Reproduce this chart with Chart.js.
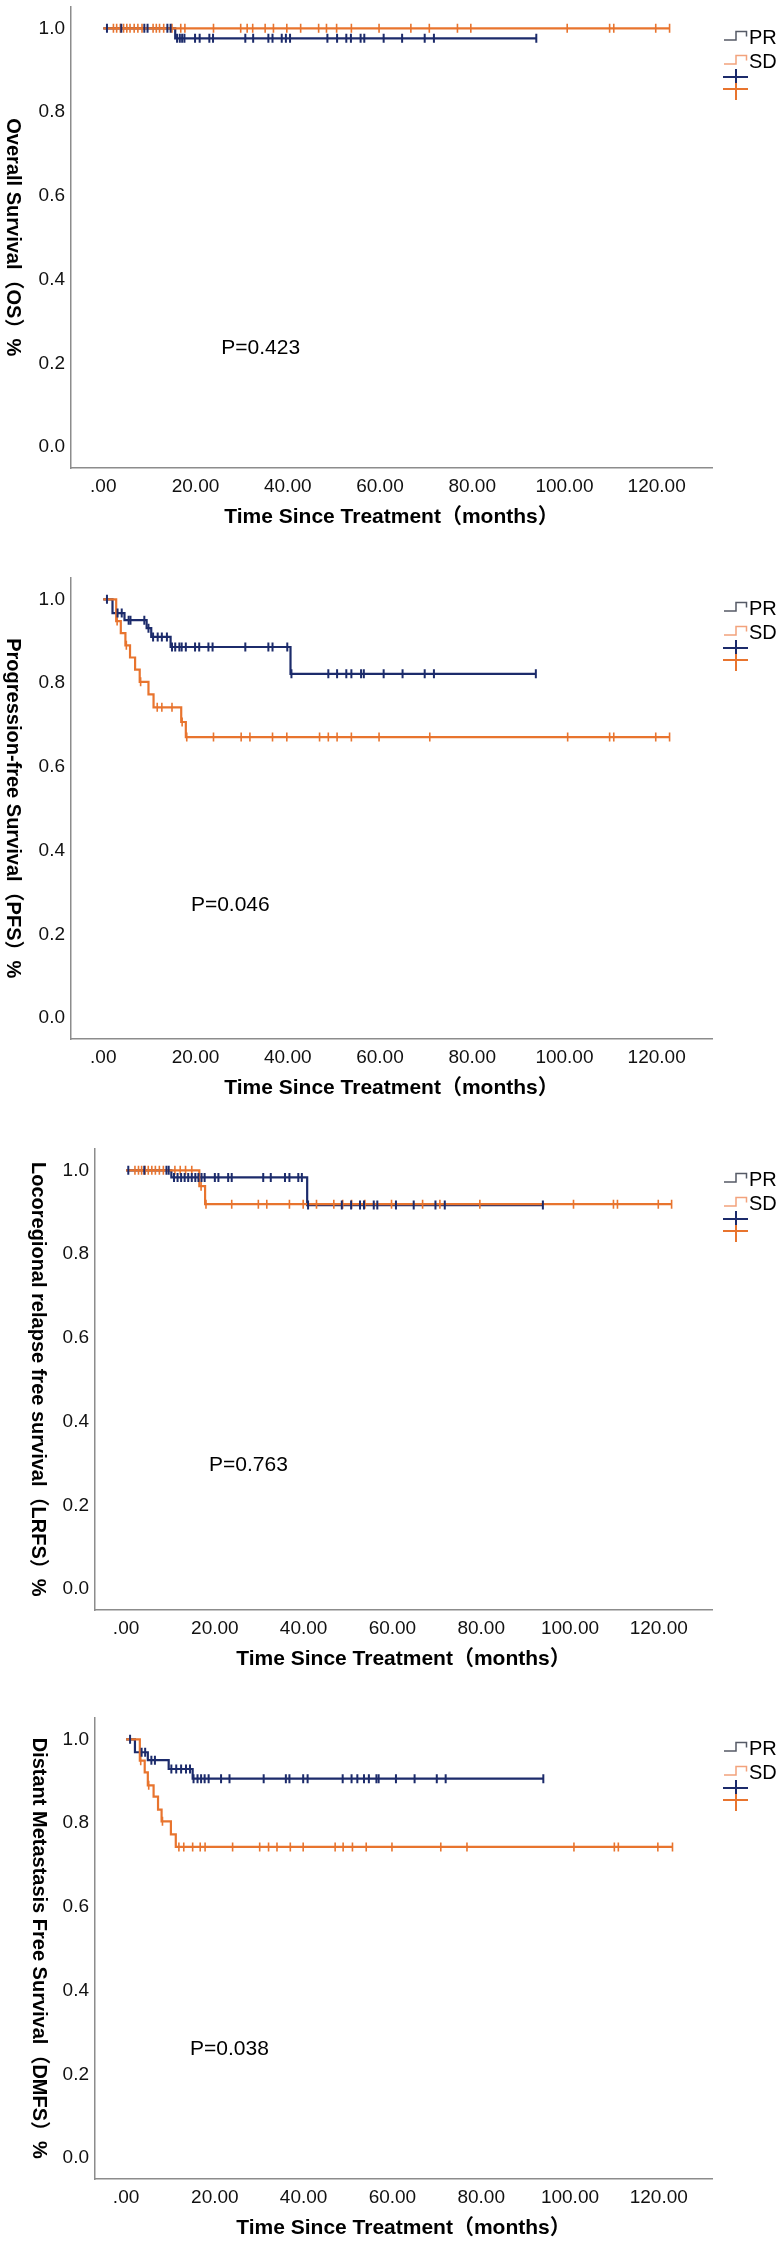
<!DOCTYPE html>
<html>
<head>
<meta charset="utf-8">
<script src="https://cdn.jsdelivr.net/npm/chart.js@4.4.1/dist/chart.umd.min.js"></script>
<style>
  html, body { margin: 0; padding: 0; background: #fff; }
  body { width: 777px; height: 2243px; position: relative; overflow: hidden; }
  canvas { position: absolute; left: 0; }
</style>
</head>
<body>
<script>
// Kaplan-Meier panels, PR vs SD

const xTicks = [0, 20, 40, 60, 80, 100, 120];
const xTickLabels = [".00", "20.00", "40.00", "60.00", "80.00", "100.00", "120.00"];
const yTicks = [0, 0.2, 0.4, 0.6, 0.8, 1.0];
const yTickLabels = ["0.0", "0.2", "0.4", "0.6", "0.8", "1.0"];
const groups = ["PR", "SD"];

// OS
const osPrTimes = [15.6];
const osPrSurv = [0.976];
const osPrCensor = [0.8, 3.9, 8.9, 9.6, 13.9, 14.6, 16.0, 16.6, 17.1, 17.6, 19.9, 20.9, 23.0, 23.8, 30.8, 32.5, 35.8, 36.7, 38.7, 39.6, 40.5, 48.6, 50.7, 52.7, 53.7, 55.8, 56.6, 60.8, 64.8, 69.7, 71.7, 93.9];
const osSdTimes = [];
const osSdSurv = [];
const osSdCensor = [2.2, 2.9, 3.7, 4.4, 5.1, 5.8, 6.7, 7.5, 8.4, 10.8, 11.5, 12.2, 13.1, 14.9, 16.8, 17.7, 23.9, 29.8, 31.2, 32.4, 35.1, 36.9, 39.8, 42.8, 46.7, 48.4, 50.6, 53.8, 59.8, 66.7, 70.7, 76.8, 79.7, 100.6, 109.8, 110.7, 119.8, 122.8];

// PFS
const pfsPrTimes = [2.0, 4.6, 9.4, 10.4, 14.6, 40.6];
const pfsPrSurv = [0.967, 0.950, 0.931, 0.910, 0.886, 0.822];
const pfsPrCensor = [0.8, 3.1, 4.0, 5.5, 5.9, 8.9, 9.8, 10.8, 11.8, 12.7, 13.8, 14.9, 15.6, 16.5, 17.0, 17.9, 19.9, 20.8, 22.8, 23.7, 30.8, 35.8, 36.7, 39.9, 40.8, 48.8, 50.7, 52.7, 53.8, 55.9, 56.5, 60.8, 64.9, 69.7, 71.7, 93.8];
const pfsSdTimes = [2.8, 3.8, 4.8, 5.8, 6.9, 7.9, 9.8, 10.9, 16.9, 17.9];
const pfsSdSurv = [0.948, 0.919, 0.890, 0.861, 0.832, 0.803, 0.773, 0.742, 0.707, 0.671];
const pfsSdCensor = [3.0, 5.0, 8.1, 11.7, 12.7, 14.9, 17.1, 18.1, 23.9, 29.9, 31.8, 36.7, 39.8, 46.9, 48.8, 50.7, 53.8, 59.8, 70.8, 100.7, 109.8, 110.7, 119.8, 122.8];

// LRFS
const lrfsPrTimes = [10.2, 40.8];
const lrfsPrSurv = [0.983, 0.917];
const lrfsPrCensor = [0.5, 4.1, 9.1, 9.6, 10.8, 11.6, 12.4, 13.2, 14.0, 14.8, 15.6, 16.3, 17.0, 17.7, 20.0, 20.8, 23.0, 23.8, 30.9, 32.6, 35.8, 36.8, 38.8, 39.6, 41.0, 48.6, 50.7, 52.7, 53.6, 55.8, 56.6, 60.8, 64.8, 69.7, 71.8, 93.9];
const lrfsSdTimes = [16.5, 17.8];
const lrfsSdSurv = [0.962, 0.919];
const lrfsSdCensor = [2.0, 2.8, 3.5, 4.3, 5.0, 5.8, 6.6, 7.5, 8.4, 11.0, 12.2, 13.4, 14.8, 16.9, 18.0, 23.8, 29.8, 31.7, 36.8, 39.9, 42.9, 46.8, 48.8, 50.8, 53.8, 59.8, 66.8, 70.7, 79.7, 100.8, 109.8, 110.7, 119.9, 122.9];

// DMFS
const dmfsPrTimes = [2.0, 4.9, 9.6, 15.0];
const dmfsPrSurv = [0.969, 0.950, 0.929, 0.906];
const dmfsPrCensor = [0.9, 3.5, 4.3, 5.7, 6.5, 10.2, 11.3, 12.4, 13.5, 14.4, 15.2, 16.1, 16.9, 17.7, 18.6, 21.4, 23.3, 31.0, 36.0, 36.8, 39.9, 40.9, 48.8, 50.8, 52.1, 53.6, 54.7, 56.4, 56.9, 60.8, 65.0, 70.0, 72.0, 94.0];
const dmfsSdTimes = [3.1, 4.2, 4.9, 6.2, 7.2, 8.0, 10.1, 11.2];
const dmfsSdSurv = [0.949, 0.921, 0.890, 0.863, 0.832, 0.804, 0.773, 0.743];
const dmfsSdCensor = [3.3, 5.1, 8.2, 11.9, 13.0, 15.0, 16.7, 17.8, 24.0, 30.1, 32.1, 34.0, 37.0, 39.9, 47.1, 48.9, 51.0, 54.1, 59.9, 70.9, 76.8, 100.9, 110.0, 110.9, 119.8, 123.1];

const pValues = ["P=0.423", "P=0.046", "P=0.763", "P=0.038"];
const yTitles = [
  "Overall Survival（OS）%",
  "Progression-free Survival（PFS）%",
  "Locoregional relapse free survival（LRFS）%",
  "Distant Metastasis Free Survival（DMFS）%"
];
const xTitle = "Time Since Treatment（months）";

const BLUE = "#1c2b6b";
const ORANGE = "#e8742e";
const FONT = "'Liberation Sans', Arial, 'Noto Sans CJK SC', sans-serif";

const panels = [
  { top: 0,    left: 71, titleX: 13, pAt: [25.6, 0.237],
    pr: [osPrTimes, osPrSurv, osPrCensor], sd: [osSdTimes, osSdSurv, osSdCensor] },
  { top: 571,  left: 71, titleX: 13, pAt: [19.0, 0.27],
    pr: [pfsPrTimes, pfsPrSurv, pfsPrCensor], sd: [pfsSdTimes, pfsSdSurv, pfsSdCensor] },
  { top: 1142, left: 95, titleX: 38, pAt: [18.7, 0.296],
    pr: [lrfsPrTimes, lrfsPrSurv, lrfsPrCensor], sd: [lrfsSdTimes, lrfsSdSurv, lrfsSdCensor] },
  { top: 1711, left: 95, titleX: 39, pAt: [14.4, 0.26],
    pr: [dmfsPrTimes, dmfsPrSurv, dmfsPrCensor], sd: [dmfsSdTimes, dmfsSdSurv, dmfsSdCensor] }
];

function stepPoints(times, surv, censor) {
  const end = Math.max(...censor, ...times);
  const pts = [{ x: 0, y: 1 }];
  times.forEach((t, i) => pts.push({ x: t, y: surv[i] }));
  pts.push({ x: end, y: surv.length ? surv[surv.length - 1] : 1 });
  return pts;
}

function survAt(times, surv, t) {
  let s = 1;
  times.forEach((ti, i) => { if (ti <= t) s = surv[i]; });
  return s;
}

function censorPoints(times, surv, censor) {
  return censor.map(t => ({ x: t, y: survAt(times, surv, t) }));
}

const overlay = {
  id: "overlay",
  afterDraw(chart) {
    const o = chart.options.plugins.overlay;
    const ctx = chart.ctx;
    const a = chart.chartArea;
    const xs = chart.scales.x, ys = chart.scales.y;

    // y title, reads top to bottom
    ctx.save();
    ctx.fillStyle = "#000";
    ctx.font = "bold 20px " + FONT;
    ctx.textAlign = "center";
    ctx.textBaseline = "middle";
    ctx.translate(o.titleX, (a.top + a.bottom) / 2);
    ctx.rotate(Math.PI / 2);
    ctx.fillText(o.yTitle, 0, 0);
    ctx.restore();

    // x title
    ctx.save();
    ctx.fillStyle = "#000";
    ctx.font = "bold 21px " + FONT;
    ctx.textAlign = "center";
    ctx.textBaseline = "middle";
    ctx.fillText(xTitle, (a.left + a.right) / 2, 517);
    ctx.restore();

    // p value
    ctx.save();
    ctx.fillStyle = "#000";
    ctx.font = "21px " + FONT;
    ctx.textAlign = "left";
    ctx.textBaseline = "middle";
    ctx.fillText(o.p, xs.getPixelForValue(o.pAt[0]), ys.getPixelForValue(o.pAt[1]));
    ctx.restore();

    // legend
    ctx.save();
    ctx.lineWidth = 1.5;
    [["#555a66", 40], ["#f2a27c", 64]].forEach(([c, y]) => {
      ctx.strokeStyle = c;
      ctx.beginPath();
      ctx.moveTo(724, y);
      ctx.lineTo(736, y);
      ctx.lineTo(736, y - 8.5);
      ctx.lineTo(746.5, y - 8.5);
      ctx.lineTo(746.5, y - 3.5);
      ctx.stroke();
    });
    ctx.fillStyle = "#000";
    ctx.font = "20px " + FONT;
    ctx.textAlign = "left";
    ctx.textBaseline = "middle";
    ctx.fillText(groups[0], 749, 38);
    ctx.fillText(groups[1], 749, 62);
    ctx.lineWidth = 2;
    [[BLUE, 77, 69, 85], [ORANGE, 89, 83, 100]].forEach(([c, y, y0, y1]) => {
      ctx.strokeStyle = c;
      ctx.beginPath();
      ctx.moveTo(723, y);
      ctx.lineTo(748, y);
      ctx.moveTo(736, y0);
      ctx.lineTo(736, y1);
      ctx.stroke();
    });
    ctx.restore();
  }
};

panels.forEach((p, i) => {
  const canvas = document.createElement("canvas");
  canvas.width = 777;
  canvas.height = 532;
  canvas.style.top = p.top + "px";
  document.body.appendChild(canvas);

  const [prT, prS, prC] = p.pr;
  const [sdT, sdS, sdC] = p.sd;

  new Chart(canvas, {
    type: "line",
    data: {
      datasets: [
        { label: "PR censored", data: censorPoints(prT, prS, prC), showLine: false,
          pointStyle: "line", rotation: 90, pointRadius: 4.5, pointBorderWidth: 2,
          pointBorderColor: BLUE, borderColor: BLUE, order: 0 },
        { label: "SD censored", data: censorPoints(sdT, sdS, sdC), showLine: false,
          pointStyle: "line", rotation: 90, pointRadius: 4.5, pointBorderWidth: 1.6,
          pointBorderColor: ORANGE, borderColor: ORANGE, order: 0 },
        { label: "SD", data: stepPoints(sdT, sdS, sdC), stepped: true,
          borderColor: ORANGE, borderWidth: 2.2, pointRadius: 0, fill: false, order: 1 },
        { label: "PR", data: stepPoints(prT, prS, prC), stepped: true,
          borderColor: BLUE, borderWidth: 2.2, pointRadius: 0, fill: false, order: 2 }
      ]
    },
    options: {
      responsive: false,
      animation: false,
      events: [],
      layout: { padding: { top: 3, right: 65, bottom: 0, left: 0 } },
      plugins: {
        legend: { display: false },
        tooltip: { enabled: false },
        overlay: { yTitle: yTitles[i], p: pValues[i], pAt: p.pAt, titleX: p.titleX }
      },
      scales: {
        x: {
          type: "linear",
          min: -7, max: 132,
          afterBuildTicks: s => { s.ticks = xTicks.map(v => ({ value: v })); },
          afterFit: s => { s.height = 64; s.paddingLeft = 0; s.paddingRight = 0; },
          grid: { display: false, drawTicks: false },
          border: { display: true, color: "#8c8c8c", width: 1.5 },
          ticks: {
            padding: 7,
            color: "#111",
            font: { family: FONT, size: 19 },
            maxRotation: 0,
            autoSkip: false,
            callback: v => xTickLabels[xTicks.indexOf(v)]
          }
        },
        y: {
          type: "linear",
          min: -0.05, max: 1.052,
          afterBuildTicks: s => { s.ticks = yTicks.map(v => ({ value: v })); },
          afterFit: s => { s.width = p.left; s.paddingTop = 0; s.paddingBottom = 0; },
          grid: { display: false, drawTicks: false },
          border: { display: true, color: "#8c8c8c", width: 1.5 },
          ticks: {
            padding: 6,
            color: "#111",
            font: { family: FONT, size: 19 },
            autoSkip: false,
            callback: v => yTickLabels[yTicks.indexOf(v)]
          }
        }
      }
    },
    plugins: [overlay]
  });
});
</script>
</body>
</html>
